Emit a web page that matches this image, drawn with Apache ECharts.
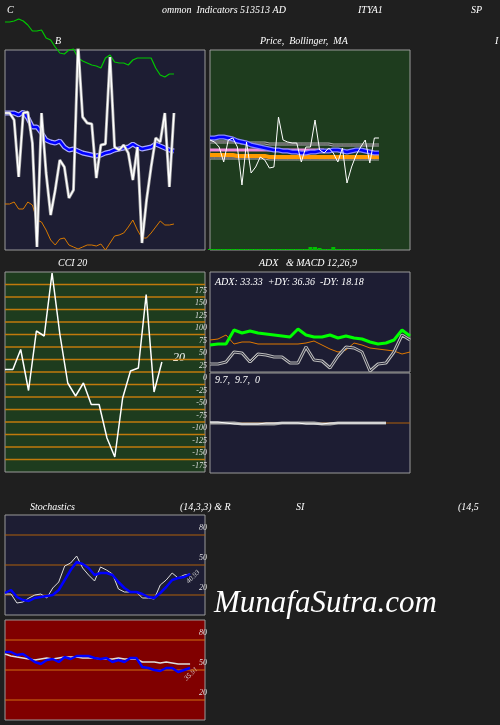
<!DOCTYPE html>
<html><head><meta charset="utf-8">
<script src="https://cdn.jsdelivr.net/npm/echarts@6/dist/echarts.min.js"></script>
<style>html,body{margin:0;padding:0;background:#1f1f1f}#c{width:500px;height:725px}</style>
</head><body><div id="c"></div>
<script>
// Panel 1 (B)
const p1White=[137,137,130,73,137,138,107,3,137,77,35,60,90,83,52,60,205,133,127,126,72,105,106,193,103,100,105,97,70,103,7,50,83,112,108,137,63,137];
const p1Blue=[137,137,137,135,138,132,123,123,117,110,108,107,109,103,100,101,99,97,96,95,94,95,97,98,100,101,102,103,106,103,101,102,103,106,104,102,100,99];
const p1Green=[228,228,229,231,229,225,219,219,220,212,210,203,197,196,200,201,192,189,187,185,184,182,192,195,188,187,187,185,190,192,192,192,192,182,175,173,176,176];
const p1Orange=[46,46,48,41,41,48,45,30,28,20,10,5,11,12,5,3,1,3,5,5,4,6,0,7,14,15,17,23,30,20,12,12,17,23,29,25,25,26];
// Panel 2 (Price, Bollinger, MA)
const p2Price=[110,108,103,88,110,112,103,65,108,77,83,93,90,82,83,133,110,108,107,107,88,103,103,130,100,97,102,97,88,102,67,83,95,103,110,87,112,112];
const p2MA=[112,112,113,113,112,111,109,108,107,105,104,103,102,101,100,100,99,99,98,98,97,97,98,98,99,99,99,100,100,99,98,99,100,100,99,98,97,97];
const p2MA2=[95,95,95,95,95,95,94,94,94,94,94,94,94,93,93,93,93,93,93,93,93,93,93,93,93,93,93,93,93,93,93,93,93,93,93,93,93,93];
const p2Pink=[100,100,100,100,100,100,100,100,100,100,100,100,100,100,100,100,100,100,100,100,100,100,100,100,100,100];
const p2Upper=[108,108,108,108,108,108,108,107,107,107,107,107,107,106,106,106,106,106,106,106,106,106,106,106,106,106,106,105,105,105,105,105,105,105,105,105,105,105];
const p2Lower=[92,92,92,92,92,92,92,92,92,92,92,92,92,91,91,91,91,91,91,91,91,91,91,91,91,91,91,91,91,91,91,91,91,91,91,91,91,91];
const p2Vol=[1,1,1,1,1,1,1,1,1,1,1,1,1,1,1,1,1,1,1,1,1,1,3,3,2,1,1,3,1,1,1,1,1,1,1,1,1,1];
// CCI 20
const cci=[5,5,45,-37,82,72,198,75,-22,-48,-22,-65,-65,-132,-170,-52,2,8,155,-40,20];
const cciTicks=[175,150,125,100,75,50,25,0,-25,-50,-75,-100,-125,-150,-175];
// ADX
const pdi=[27,28,28,42,39,41,39,38,37,36,35,43,37,35,35,37,34,36,34,33,30,28,29,32,42,36];
const mdi=[32,33,37,28,30,30,28,28,28,28,28,28,29,31,27,23,20,22,29,27,24,23,22,21,18,20];
const adx=[8,8,10,20,19,10,18,17,15,15,9,9,25,12,11,4,16,25,24,20,1,8,9,20,37,32];
// MACD
const macd=[1,1,0,-1,-1,-1,-1,0,0,0,0,0,-1,-1,-1,0,0,0,0,0,0,0,0];
const signal=[0,0,0,0,-1,-1,-1,-1,-1,0,0,0,0,0,-1,-1,0,0,0,0,0,0,0];
// Stochastics & RSI
const stochK=[21,21,12,13,17,20,21,17,27,33,49,52,59,47,40,34,48,45,41,26,23,23,23,17,17,16,30,35,42,37,40,41];
const stochD=[22,25,18,15,14,17,18,19,20,25,35,45,53,51,47,40,42,42,40,33,27,23,23,21,18,17,22,28,35,37,38,41];
const rsi=[68,68,65,66,62,58,56,60,61,58,63,61,64,64,64,62,61,62,58,60,58,62,62,53,52,50,49,52,52,48,50,52];
const rsiAvg=[66,64,63,62,61,60,61,62,61,62,63,63,63,62,62,62,61,61,61,62,61,61,61,58,58,58,57,58,57,56,56,56];
const levels=[80,50,20];

const F='Liberation Serif, DejaVu Serif, serif';
const pts=a=>a.map((v,i)=>[i,v]);
const grids=[
 {left:5,top:50,width:200,height:200,bg:'#1d1d33'},
 {left:210,top:50,width:200,height:200,bg:'#1e3c1e'},
 {left:5,top:272,width:200,height:200,bg:'#1e3c1e'},
 {left:210,top:272,width:200,height:100,bg:'#1d1d33'},
 {left:210,top:373,width:200,height:100,bg:'#1d1d33'},
 {left:5,top:515,width:200,height:100,bg:'#1d1d33'},
 {left:5,top:620,width:200,height:100,bg:'#800000'}
];
const xmax=[43.8,43.8,25.5,25,25,33.5,33.5];
const yr=[[0,200],[0,200],[-200,200],[0,100],[-50,50],[0,100],[0,100]];
const hidden={show:false,axisLine:{show:false},axisTick:{show:false},axisLabel:{show:false},splitLine:{show:false},splitArea:{show:false}};
const option={
 backgroundColor:'#1f1f1f',animation:false,
 grid:grids.map(g=>({left:g.left,top:g.top,width:g.width,height:g.height,show:true,backgroundColor:g.bg,borderColor:'#9a9a9a',borderWidth:1})),
 xAxis:grids.map((g,i)=>Object.assign({type:'value',gridIndex:i,min:0,max:xmax[i]},hidden)),
 yAxis:grids.map((g,i)=>Object.assign({type:'value',gridIndex:i,min:yr[i][0],max:yr[i][1]},hidden)),
 series:[]
};
const L=(gi,data,color,width,extra)=>Object.assign({type:'line',xAxisIndex:gi,yAxisIndex:gi,data:pts(data),showSymbol:false,symbol:'none',lineStyle:{color,width},itemStyle:{color},z:3},extra||{});
const H=(gi,v,color,dy,w)=>({type:'line',xAxisIndex:gi,yAxisIndex:gi,data:[[0,v],[xmax[gi],v]],showSymbol:false,symbol:'none',lineStyle:{color,width:w||1},itemStyle:{color},z:1,silent:true,
  endLabel:{show:true,formatter:String(v),color:'#dddddd',fontFamily:F,fontStyle:'italic',fontSize:8,align:'right',offset:[-6,dy]}});
const S=option.series;
cciTicks.forEach(v=>S.push(H(2,v,'#c07a0c',6,1.4)));
levels.forEach(v=>{S.push(H(5,v,'#b0600a',-7));S.push(H(6,v,'#d07010',-7));});
S.push(Object.assign(H(4,0,'#b0600a',0),{endLabel:{show:false}}));
S.push(L(0,p1Orange,'#d97a00',1));
S.push(L(0,p1Green,'#00c800',1.2,{clip:false}));
S.push(L(0,p1Blue,'#aaaaff',5));
S.push(L(0,p1Blue,'#0000ff',2.5));
S.push(L(0,p1White,'#aaaaaa',3));
S.push(L(0,p1White,'#ffffff',1.5));
S.push({type:'bar',xAxisIndex:1,yAxisIndex:1,data:pts(p2Vol),barWidth:4,itemStyle:{color:'#00c000'}});
S.push(L(1,p2Upper,'#aaaaaa',3));
S.push(L(1,p2Upper,'#333333',1));
S.push(L(1,p2Lower,'#aaaaaa',3));
S.push(L(1,p2Lower,'#333333',1));
S.push(L(1,p2Pink,'#ee88dd',3));
S.push(L(1,p2MA2,'#ff9900',4));
S.push(L(1,p2MA,'#8888ff',5));
S.push(L(1,p2MA,'#0000ff',2.5));
S.push(L(1,p2Price,'#ffffff',1));
S.push(L(2,cci,'#ffffff',1.5));
S.push(L(3,mdi,'#e07800',1));
S.push(L(3,pdi,'#00ff00',3));
S.push(L(3,adx,'#bbbbbb',3));
S.push(L(3,adx,'#222233',1));
S.push(L(4,signal,'#aaaaaa',3));
S.push(L(4,macd,'#ffffff',1));
S.push(L(5,stochK,'#dddddd',1));
S.push(L(5,stochD,'#0000ff',2.5));
S.push(L(6,rsiAvg,'#dddddd',1.5));
S.push(L(6,rsi,'#0000ff',2.5));
const T=(x,y,text,size)=>({type:'text',left:x,top:y,style:{text,fill:'#ffffff',font:'italic '+(size||10)+'px '+F}});
option.graphic=[
 T(7,5,'C'),T(162,5,'ommon  Indicators 513513 AD'),T(358,5,'ITYA1'),T(471,5,'SP'),
 T(55,36,'B'),T(260,36,'Price,  Bollinger,  MA'),T(495,36,'I'),
 T(58,258,'CCI 20'),T(259,258,'ADX   & MACD 12,26,9'),
 T(173,352,'20',12),
 T(215,277,'ADX: 33.33  +DY: 36.36  -DY: 18.18'),
 T(215,375,'9.7,  9.7,  0'),
 T(30,502,'Stochastics'),T(180,502,'(14,3,3) & R'),T(296,502,'SI'),T(458,502,'(14,5'),
 {type:'text',x:185,y:580,rotation:Math.PI/4,style:{text:'40.93',fill:'#ddd',font:'italic 7px '+F}},
 {type:'text',x:183,y:677,rotation:Math.PI/4,style:{text:'35.91',fill:'#ddd',font:'italic 7px '+F}},
 T(214,588,'MunafaSutra.com',31)
];
echarts.init(document.getElementById('c')).setOption(option);
</script></body></html>
